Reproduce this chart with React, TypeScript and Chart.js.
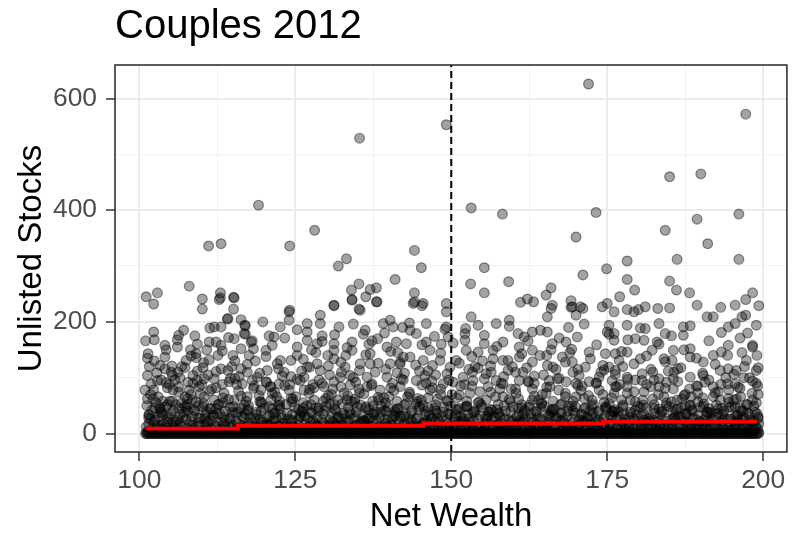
import { useEffect, useRef } from 'react';
import { Chart, registerables } from 'chart.js';

Chart.register(...registerables);

const FONT = "'Liberation Sans', Arial, Helvetica, sans-serif";

const chartTitle = 'Couples 2012';
const xTitle = 'Net Wealth';
const yTitle = 'Unlisted Stocks';

const xTicks = [100, 112.5, 125, 137.5, 150, 162.5, 175, 187.5, 200];
const yTicks = [0, 100, 200, 300, 400, 500, 600];
const xRange = [96.1, 203.8];
const yRange = [-33, 660];

const cutoffWealth = 150;

// red fitted step line
const fitWealth = [101.1, 115.8, 145.6, 174.4, 199.1];
const fitStocks = [9, 14, 18, 21.5, 21.5];

// [net wealth, unlisted stocks]
const upperPoints: number[][] = [
  [172.0, 626], [197.2, 572], [149.2, 553], [135.3, 529], [119.1, 409], [111.1, 336], [113.1, 340], [124.1, 336],
  [128.1, 364], [133.2, 313], [131.9, 300], [185.0, 460], [190.0, 465], [153.2, 404], [158.2, 393], [173.2, 396],
  [196.1, 393], [189.4, 384], [184.3, 364], [191.1, 340], [170.0, 352], [144.1, 328], [178.2, 309], [186.2, 312],
  [196.1, 312], [145.2, 297], [155.3, 297], [174.9, 295], [141.0, 276], [108.0, 264], [135.2, 268], [134.0, 257],
  [137.0, 258], [138.0, 261], [101.1, 245], [102.9, 252], [102.3, 232], [110.1, 241], [113.0, 252], [113.0, 243],
  [115.1, 244], [115.2, 243], [134.1, 240], [136.3, 245], [138.0, 236], [144.1, 252], [144.1, 236], [145.3, 229],
  [149.2, 233], [131.2, 229], [124.1, 221], [110.1, 223], [115.1, 223], [135.2, 223], [153.1, 268], [159.2, 272],
  [171.1, 284], [178.2, 276], [185.0, 273], [166.0, 261], [165.2, 248], [155.3, 252], [179.4, 257], [186.1, 257],
  [188.2, 252], [198.3, 252], [197.2, 240], [177.0, 245], [161.1, 235], [162.2, 241], [163.2, 236], [169.2, 238],
  [169.2, 226], [175.0, 233], [199.3, 229], [166.0, 224], [171.1, 224], [178.2, 222], [180.0, 222], [183.1, 224],
  [185.0, 225], [193.2, 226], [114.1, 205], [117.0, 193], [117.0, 178], [118.1, 166], [112.8, 240], [149.0, 187],
];

const midPoints: number[][] = [
  [101.0, 166], [102.4, 168], [104.1, 158], [106.1, 168], [106.1, 155], [101.4, 143], [102.4, 130], [104.1, 137],
  [105.2, 121], [104.1, 116], [106.2, 110], [103.5, 96], [101.9, 89], [100.9, 78], [105.7, 96], [105.4, 78],
  [103.0, 66], [101.3, 104], [102.8, 109], [104.8, 88], [101.6, 120],
  [107.5, 131], [109.1, 143], [109.1, 136], [108.6, 104], [110.4, 98], [109.6, 84], [108.0, 78], [107.3, 66],
  [110.4, 66], [106.8, 120], [108.2, 150], [110.2, 118], [107.8, 92], [109.3, 112], [106.5, 100], [108.9, 175],
  [110.8, 150], [107.1, 185],
  [111.2, 164], [112.3, 164], [113.1, 158], [111.2, 132], [113.1, 116], [114.2, 113], [112.0, 98], [114.4, 93],
  [112.0, 60], [113.6, 72], [115.2, 60], [115.0, 140], [115.2, 170], [112.0, 191], [113.1, 191], [114.2, 206],
  [111.6, 80], [114.8, 120], [112.6, 140], [115.6, 88],
  [116.9, 194], [116.8, 179], [117.9, 164], [116.3, 152], [116.3, 116], [117.3, 110], [118.9, 101], [120.3, 149],
  [120.5, 113], [118.1, 95], [116.5, 89], [119.5, 78], [117.3, 66], [119.5, 57], [121.1, 60], [118.6, 130],
  [120.8, 175], [119.8, 200], [117.6, 140], [121.0, 84],
  [122.1, 125], [122.6, 131], [121.6, 173], [122.6, 191], [122.4, 89], [121.1, 84], [124.0, 218], [124.0, 203],
  [125.3, 155], [125.3, 140], [124.3, 131], [124.0, 78], [123.2, 110], [125.8, 95], [122.0, 66], [124.6, 62],
  [129.0, 212], [129.0, 197], [126.9, 197], [126.9, 182], [126.9, 167], [128.5, 161], [128.5, 125], [129.0, 113],
  [126.9, 119], [126.4, 101], [129.6, 84], [126.4, 78], [128.0, 60], [130.2, 140], [127.6, 150], [130.5, 105],
  [127.8, 88], [130.8, 70], [129.3, 175],
  [131.2, 230], [134.1, 239], [135.4, 221], [132.0, 191], [131.2, 161], [131.2, 149], [131.2, 134], [134.1, 164],
  [134.1, 149], [135.4, 125], [133.0, 119], [133.8, 104], [133.8, 87], [131.2, 93], [132.8, 72], [132.4, 110],
  [135.2, 80], [134.6, 62], [131.8, 60], [135.9, 178], [133.1, 140],
  [138.1, 236], [136.2, 185], [139.1, 197], [140.2, 203], [140.7, 191], [139.7, 155], [137.0, 143], [137.0, 125],
  [136.5, 101], [136.5, 84], [139.7, 101], [138.6, 78], [140.2, 125], [137.8, 110], [139.2, 64], [136.8, 160],
  [140.6, 90], [138.2, 170], [137.4, 58],
  [143.9, 233], [145.5, 233], [143.4, 185], [144.4, 179], [146.0, 197], [146.0, 164], [141.2, 164], [142.8, 161],
  [141.8, 125], [141.8, 128], [143.4, 137], [145.5, 131], [141.8, 84], [144.4, 95], [146.6, 78], [142.5, 108],
  [144.9, 112], [143.0, 66], [145.2, 60], [141.4, 145], [142.2, 190],
  [149.2, 218], [149.2, 191], [149.5, 173], [146.6, 149], [148.2, 131], [149.8, 119], [148.7, 89], [147.5, 105],
  [150.8, 131], [147.0, 122], [150.1, 70], [147.8, 62], [146.9, 94], [148.4, 160],
  [153.2, 209], [154.3, 194], [152.2, 179], [152.2, 167], [155.3, 161], [152.4, 149], [154.3, 146], [151.9, 101],
  [153.5, 95], [155.6, 107], [153.0, 72], [155.6, 60], [153.8, 120], [151.5, 85], [155.0, 130], [152.8, 115],
  [157.2, 197], [159.3, 203], [158.3, 164], [160.7, 179], [156.7, 149], [156.7, 134], [159.1, 131], [160.9, 155],
  [160.9, 137], [157.2, 95], [159.1, 113], [160.9, 95], [158.3, 66], [160.4, 72], [157.8, 80], [159.8, 120],
  [156.4, 110],
  [161.7, 173], [163.0, 182], [165.4, 209], [165.4, 182], [166.2, 161], [163.0, 149], [163.0, 128], [165.4, 122],
  [163.0, 80], [165.7, 95], [163.0, 60], [165.2, 72], [161.5, 110], [164.2, 140], [162.4, 92], [164.8, 105],
  [166.0, 150],
  [169.4, 227], [170.7, 227], [166.2, 230], [170.0, 212], [168.4, 164], [170.2, 173], [167.8, 137], [169.4, 128],
  [168.4, 93], [170.5, 104], [167.8, 54], [170.0, 66], [166.8, 115], [169.0, 145], [171.0, 85], [167.2, 78],
  [168.8, 190],
  [175.0, 182], [172.1, 146], [174.7, 143], [176.3, 143], [171.5, 119], [175.3, 119], [176.3, 113], [172.1, 93],
  [173.7, 101], [175.8, 95], [172.6, 60], [174.7, 48], [174.2, 227], [176.1, 218], [175.3, 194], [176.1, 179],
  [176.1, 167], [173.7, 78], [174.0, 110], [176.1, 72], [176.9, 131],
  [179.3, 218], [178.2, 194], [181.1, 227], [181.1, 188], [179.5, 170], [180.9, 167], [178.2, 146], [180.3, 134],
  [178.2, 101], [178.2, 84], [180.6, 107], [180.6, 95], [180.9, 75], [178.7, 60], [177.5, 120],
  [183.3, 197], [184.3, 179], [183.0, 164], [182.2, 149], [185.6, 149], [184.1, 134], [185.4, 131], [183.3, 98],
  [183.3, 84], [185.6, 98], [185.6, 80], [184.1, 66], [186.2, 60], [182.0, 115], [184.8, 112],
  [189.4, 230], [191.0, 209], [187.2, 191], [187.2, 176], [188.3, 152], [188.3, 137], [190.4, 128], [188.3, 101],
  [190.4, 104], [188.3, 51], [190.4, 48], [190.9, 33], [186.8, 118], [189.5, 85], [187.5, 70],
  [192.0, 209], [195.5, 230], [194.4, 191], [195.5, 197], [192.0, 140], [193.3, 146], [194.4, 158], [193.1, 113],
  [194.4, 116], [195.7, 113], [192.0, 84], [192.8, 75], [195.5, 89], [193.1, 60], [194.4, 63], [195.5, 48],
  [196.6, 145], [197.5, 180], [198.3, 158], [198.9, 194], [198.9, 113], [198.9, 90], [196.0, 83], [198.3, 60],
  [197.0, 120], [197.8, 100], [196.4, 66], [199.0, 140], [197.2, 212], [196.6, 209],
];

const extraMidPoints: number[][] = [
  [101.8, 70], [102.9, 95], [103.8, 58], [105.1, 110], [106.3, 74], [107.7, 62], [108.6, 90], [109.8, 71],
  [111.0, 105], [112.3, 82], [113.4, 64], [114.6, 99], [115.9, 76], [117.1, 58], [118.4, 85], [119.2, 68],
  [120.4, 92], [121.7, 74], [122.9, 103], [124.1, 88], [125.1, 66], [126.0, 112], [127.2, 72], [128.8, 96],
  [129.9, 63], [131.0, 80], [132.2, 101], [133.4, 68], [134.7, 92], [136.0, 71], [137.2, 86], [138.4, 60],
  [139.5, 115], [140.8, 77], [142.0, 98], [143.3, 74], [144.6, 63], [145.8, 104], [147.0, 82], [148.3, 70],
  [149.6, 96], [150.9, 64], [152.1, 88], [153.4, 110], [154.6, 75], [155.9, 84], [157.1, 66], [158.4, 102],
  [159.6, 80], [160.8, 62], [162.1, 118], [163.3, 90], [164.6, 70], [165.8, 84], [167.0, 98], [168.3, 66],
  [169.5, 110], [170.8, 77], [172.0, 68], [173.2, 90], [174.5, 114], [175.7, 64], [177.0, 88], [178.2, 72],
  [179.5, 96], [180.7, 60], [182.0, 84], [183.2, 70], [184.5, 92], [185.7, 110], [187.0, 62], [188.2, 80],
  [189.5, 72], [190.7, 92], [192.0, 66], [193.2, 88], [194.5, 78], [195.7, 62], [196.9, 100], [198.2, 72],
  [199.1, 85], [104.5, 82], [110.0, 88], [116.0, 102], [122.5, 58], [128.0, 82], [134.0, 58], [140.0, 66],
  [146.0, 90], [152.5, 58], [158.0, 90], [164.0, 60], [170.0, 90], [176.5, 84], [182.5, 96], [188.5, 66],
  [194.0, 100],
];

const spreadPoints: number[][] = [
  [101.3, 62], [101.3, 135], [102.3, 78], [102.3, 182], [103.3, 47], [103.3, 122], [104.3, 91], [104.3, 150],
  [105.3, 58], [105.3, 104], [106.3, 83], [106.3, 176], [107.3, 49], [107.3, 118], [108.3, 70], [108.3, 139],
  [109.3, 95], [109.3, 160], [110.3, 54], [110.3, 127], [111.3, 76], [111.3, 189], [112.3, 44], [112.3, 111],
  [113.3, 88], [113.3, 148], [114.3, 61], [114.3, 172], [115.3, 99], [115.3, 130], [116.3, 67], [116.3, 204],
  [117.3, 41], [117.3, 124], [118.3, 81], [118.3, 152], [119.3, 57], [119.3, 108], [120.3, 93], [120.3, 138],
  [121.3, 72], [121.3, 158], [122.3, 50], [122.3, 116], [123.3, 86], [123.3, 171], [124.3, 63], [124.3, 102],
  [125.3, 97], [125.3, 186], [126.3, 55], [126.3, 133], [127.3, 79], [127.3, 119], [128.3, 46], [128.3, 145],
  [129.3, 90], [129.3, 165], [130.3, 68], [130.3, 121], [131.3, 52], [131.3, 177], [132.3, 84], [132.3, 128],
  [133.3, 60], [133.3, 154], [134.3, 100], [134.3, 196], [135.3, 73], [135.3, 113], [136.3, 48], [136.3, 141],
  [137.3, 89], [137.3, 166], [138.3, 65], [138.3, 126], [139.3, 42], [139.3, 180], [140.3, 82], [140.3, 147],
  [141.3, 58], [141.3, 109], [142.3, 96], [142.3, 137], [143.3, 71], [143.3, 198], [144.3, 53], [144.3, 123],
  [145.3, 87], [145.3, 159], [146.3, 64], [146.3, 112], [147.3, 45], [147.3, 174], [148.3, 80], [148.3, 144],
  [149.3, 59], [149.3, 107], [150.3, 92], [150.3, 162], [151.3, 69], [151.3, 126], [152.3, 48], [152.3, 188],
  [153.3, 85], [153.3, 138], [154.3, 56], [154.3, 117], [155.3, 98], [155.3, 176], [156.3, 74], [156.3, 121],
  [157.3, 43], [157.3, 156], [158.3, 89], [158.3, 131], [159.3, 61], [159.3, 192], [160.3, 80], [160.3, 110],
  [161.3, 52], [161.3, 143], [162.3, 94], [162.3, 166], [163.3, 67], [163.3, 103], [164.3, 46], [164.3, 185],
  [165.3, 83], [165.3, 140], [166.3, 58], [166.3, 119], [167.3, 99], [167.3, 171], [168.3, 72], [168.3, 128],
  [169.3, 49], [169.3, 151], [170.3, 86], [170.3, 115], [171.3, 63], [171.3, 196], [172.3, 41], [172.3, 134],
  [173.3, 91], [173.3, 159], [174.3, 70], [174.3, 122], [175.3, 54], [175.3, 178], [176.3, 84], [176.3, 106],
  [177.3, 60], [177.3, 147], [178.3, 97], [178.3, 168], [179.3, 75], [179.3, 125], [180.3, 47], [180.3, 189],
  [181.3, 88], [181.3, 139], [182.3, 62], [182.3, 110], [183.3, 44], [183.3, 160], [184.3, 81], [184.3, 129],
  [185.3, 57], [185.3, 175], [186.3, 93], [186.3, 116], [187.3, 68], [187.3, 150], [188.3, 50], [188.3, 193],
  [189.3, 85], [189.3, 135], [190.3, 64], [190.3, 108], [191.3, 96], [191.3, 166], [192.3, 73], [192.3, 124],
  [193.3, 45], [193.3, 181], [194.3, 89], [194.3, 140], [195.3, 60], [195.3, 106], [196.3, 81], [196.3, 171],
  [197.3, 52], [197.3, 131], [198.3, 94], [198.3, 155], [199.2, 70], [199.2, 118],
  [101.8, 26], [103.8, 35], [105.8, 22], [107.8, 40], [109.8, 27], [111.8, 33], [113.8, 24], [115.8, 38],
  [117.8, 29], [119.8, 21], [121.8, 37], [123.8, 26], [125.8, 33], [127.8, 23], [129.8, 41], [131.8, 28],
  [133.8, 35], [135.8, 22], [137.8, 39], [139.8, 25], [141.8, 32], [143.8, 21], [145.8, 40], [147.8, 27],
  [149.8, 34], [151.8, 23], [153.8, 38], [155.8, 26], [157.8, 31], [159.8, 22], [161.8, 41], [163.8, 28],
  [165.8, 35], [167.8, 24], [169.8, 37], [171.8, 29], [173.8, 21], [175.8, 39], [177.8, 26], [179.8, 33],
  [181.8, 23], [183.8, 40], [185.8, 28], [187.8, 34], [189.8, 22], [191.8, 37], [193.8, 27], [195.8, 32],
  [197.8, 24], [199.0, 36],
];

const lowPoints: number[][] = [
  [101.2, 50], [102.0, 42], [102.7, 55], [103.4, 38], [104.2, 48], [105.0, 35], [105.8, 52], [101.5, 28],
  [102.4, 22], [103.1, 30], [103.9, 18], [104.6, 26], [105.4, 20], [101.1, 12], [101.9, 8], [102.9, 14],
  [103.7, 9], [104.4, 12], [105.2, 7], [106.0, 15], [101.6, 34], [103.3, 44], [104.9, 58], [102.2, 62],
  [106.4, 45], [107.0, 30], [107.7, 52], [108.3, 22], [108.9, 40], [109.5, 28], [110.2, 48], [110.8, 18],
  [106.8, 12], [107.5, 8], [108.1, 16], [108.8, 10], [109.7, 14], [110.4, 6], [107.2, 38], [109.1, 56],
  [110.6, 35], [108.5, 60], [106.2, 24],
  [111.3, 45], [111.9, 30], [112.6, 52], [113.2, 20], [113.8, 40], [114.5, 28], [115.1, 48], [115.8, 18],
  [111.5, 10], [112.2, 14], [113.0, 8], [113.7, 12], [114.3, 6], [115.0, 15], [115.6, 9], [112.9, 36],
  [114.9, 38], [111.1, 22], [113.5, 55],
  [116.2, 45], [116.8, 28], [117.5, 50], [118.1, 20], [118.7, 38], [119.3, 26], [120.0, 46], [120.6, 16],
  [116.5, 10], [117.2, 13], [117.9, 7], [118.5, 11], [119.1, 9], [119.8, 14], [120.4, 8], [121.0, 12],
  [117.0, 35], [119.6, 54], [120.9, 32],
  [121.3, 44], [121.9, 27], [122.5, 51], [123.1, 19], [123.7, 37], [124.3, 25], [124.9, 47], [125.5, 15],
  [121.6, 11], [122.2, 14], [122.9, 7], [123.5, 12], [124.1, 9], [124.7, 13], [125.3, 8], [125.9, 30],
  [122.7, 33], [124.5, 57], [126.0, 40], [121.1, 20],
  [126.3, 46], [126.9, 29], [127.5, 52], [128.1, 18], [128.7, 41], [129.3, 24], [129.9, 49], [130.5, 16],
  [126.6, 10], [127.2, 13], [127.9, 8], [128.5, 12], [129.1, 6], [129.7, 14], [130.3, 9], [130.9, 35],
  [127.7, 36], [129.5, 58], [131.0, 22], [126.1, 38],
  [131.3, 44], [131.9, 30], [132.5, 53], [133.1, 21], [133.7, 39], [134.3, 27], [134.9, 48], [135.5, 17],
  [131.6, 12], [132.2, 9], [132.9, 14], [133.5, 7], [134.1, 11], [134.7, 15], [135.3, 8], [135.9, 33],
  [132.7, 36], [134.5, 56], [136.0, 24], [131.1, 19],
  [136.3, 45], [136.9, 28], [137.5, 50], [138.1, 20], [138.7, 38], [139.3, 26], [139.9, 47], [140.5, 16],
  [136.6, 11], [137.2, 14], [137.9, 7], [138.5, 12], [139.1, 9], [139.7, 13], [140.3, 6], [140.9, 31],
  [137.7, 34], [139.5, 55], [141.0, 41], [136.1, 22],
  [141.3, 44], [141.9, 29], [142.5, 52], [143.1, 19], [143.7, 40], [144.3, 26], [144.9, 48], [145.5, 17],
  [141.6, 10], [142.2, 14], [142.9, 8], [143.5, 12], [144.1, 6], [144.7, 13], [145.3, 9], [145.9, 34],
  [142.7, 35], [144.5, 57], [146.0, 23], [141.1, 38],
  [146.3, 46], [146.9, 28], [147.5, 51], [148.1, 21], [148.7, 39], [149.3, 25], [149.9, 49], [150.5, 15],
  [146.6, 11], [147.2, 13], [147.9, 7], [148.5, 12], [149.1, 9], [149.7, 14], [150.3, 8], [150.9, 33],
  [147.7, 36], [149.5, 58], [151.0, 42], [146.1, 20],
  [151.3, 45], [151.9, 27], [152.5, 50], [153.1, 20], [153.7, 41], [154.3, 26], [154.9, 47], [155.5, 16],
  [151.6, 12], [152.2, 9], [152.9, 14], [153.5, 8], [154.1, 11], [154.7, 13], [155.3, 7], [155.9, 32],
  [152.7, 35], [154.5, 56], [156.0, 39], [151.1, 22],
  [156.3, 43], [156.9, 30], [157.5, 52], [158.1, 18], [158.7, 40], [159.3, 25], [159.9, 48], [160.5, 17],
  [156.6, 10], [157.2, 14], [157.9, 8], [158.5, 12], [159.1, 6], [159.7, 13], [160.3, 9], [160.9, 34],
  [157.7, 36], [159.5, 57], [161.0, 24], [156.1, 38],
  [161.3, 46], [161.9, 28], [162.5, 51], [163.1, 21], [163.7, 38], [164.3, 27], [164.9, 49], [165.5, 15],
  [161.6, 11], [162.2, 13], [162.9, 7], [163.5, 12], [164.1, 9], [164.7, 14], [165.3, 8], [165.9, 31],
  [162.7, 35], [164.5, 55], [166.0, 42], [161.1, 20],
  [166.3, 44], [166.9, 29], [167.5, 52], [168.1, 19], [168.7, 40], [169.3, 26], [169.9, 48], [170.5, 16],
  [166.6, 10], [167.2, 14], [167.9, 8], [168.5, 12], [169.1, 6], [169.7, 13], [170.3, 9], [170.9, 33],
  [167.7, 36], [169.5, 58], [171.0, 23], [166.1, 39],
  [171.3, 45], [171.9, 27], [172.5, 50], [173.1, 20], [173.7, 41], [174.3, 25], [174.9, 47], [175.5, 17],
  [171.6, 12], [172.2, 9], [172.9, 14], [173.5, 8], [174.1, 11], [174.7, 13], [175.3, 7], [175.9, 32],
  [172.7, 36], [174.5, 56], [176.0, 40], [171.1, 22],
  [176.3, 43], [176.9, 30], [177.5, 51], [178.1, 18], [178.7, 39], [179.3, 26], [179.9, 49], [180.5, 16],
  [176.6, 11], [177.2, 13], [177.9, 8], [178.5, 12], [179.1, 9], [179.7, 14], [180.3, 7], [180.9, 34],
  [177.7, 35], [179.5, 57], [181.0, 24], [176.1, 38],
  [181.3, 46], [181.9, 28], [182.5, 52], [183.1, 21], [183.7, 38], [184.3, 27], [184.9, 48], [185.5, 15],
  [181.6, 10], [182.2, 14], [182.9, 7], [183.5, 12], [184.1, 9], [184.7, 13], [185.3, 8], [185.9, 31],
  [182.7, 36], [184.5, 55], [186.0, 42], [181.1, 20],
  [186.3, 44], [186.9, 29], [187.5, 50], [188.1, 19], [188.7, 41], [189.3, 25], [189.9, 47], [190.5, 17],
  [186.6, 12], [187.2, 9], [187.9, 14], [188.5, 8], [189.1, 11], [189.7, 13], [190.3, 6], [190.9, 22],
  [187.7, 35], [189.5, 57], [191.0, 39], [186.1, 24],
  [191.3, 45], [191.9, 27], [192.5, 51], [193.1, 20], [193.7, 40], [194.3, 26], [194.9, 48], [195.5, 16],
  [191.6, 11], [192.2, 13], [192.9, 8], [193.5, 12], [194.1, 6], [194.7, 14], [195.3, 9], [195.9, 33],
  [192.7, 36], [194.5, 56], [196.0, 24], [191.1, 38],
  [196.3, 46], [196.9, 28], [197.5, 52], [198.1, 21], [198.7, 38], [199.2, 27], [196.6, 10], [197.2, 14],
  [197.9, 7], [198.5, 12], [199.1, 9], [197.7, 35], [198.9, 55], [196.1, 20], [199.3, 18], [196.8, 40],
];

const extraLowPoints: number[][] = [
  [101.5, 17], [101.5, 33], [102.5, 24], [102.5, 46], [102.8, 10], [103.5, 15], [103.5, 38], [104.5, 21],
  [104.5, 52], [104.8, 30], [105.5, 11], [105.5, 41], [106.5, 19], [106.5, 34], [106.8, 55], [107.5, 26],
  [107.5, 47], [108.5, 13], [108.5, 31], [108.8, 42], [109.5, 20], [109.5, 50], [110.5, 16], [110.5, 27],
  [110.8, 39], [111.5, 23], [111.5, 44], [112.5, 12], [112.5, 35], [112.8, 53], [113.5, 18], [113.5, 29],
  [114.5, 25], [114.5, 47], [114.8, 11], [115.5, 22], [115.5, 37], [116.5, 14], [116.5, 31], [116.8, 51],
  [117.5, 19], [117.5, 43], [118.5, 27], [118.5, 12], [118.8, 34], [119.5, 21], [119.5, 40], [120.5, 15],
  [120.5, 29], [120.8, 48], [121.5, 24], [121.5, 36], [122.5, 13], [122.5, 45], [122.8, 28], [123.5, 18],
  [123.5, 52], [124.5, 22], [124.5, 34], [124.8, 11], [125.5, 26], [125.5, 43], [126.5, 16], [126.5, 32],
  [126.8, 50], [127.5, 21], [127.5, 39], [128.5, 14], [128.5, 28], [128.8, 46], [129.5, 19], [129.5, 35],
  [130.5, 24], [130.5, 53], [130.8, 12], [131.5, 17], [131.5, 41], [132.5, 27], [132.5, 15], [132.8, 33],
  [133.5, 22], [133.5, 47], [134.5, 13], [134.5, 30], [134.8, 38], [135.5, 20], [135.5, 51], [136.5, 16],
  [136.5, 26], [136.8, 42], [137.5, 23], [137.5, 36], [138.5, 11], [138.5, 29], [138.8, 49], [139.5, 18],
  [139.5, 40], [140.5, 25], [140.5, 14], [140.8, 33], [141.5, 21], [141.5, 45], [142.5, 17], [142.5, 31],
  [142.8, 54], [143.5, 24], [143.5, 37], [144.5, 12], [144.5, 28], [144.8, 43], [145.5, 19], [145.5, 50],
  [146.5, 15], [146.5, 34], [146.8, 26], [147.5, 22], [147.5, 41], [148.5, 13], [148.5, 30], [148.8, 47],
  [149.5, 18], [149.5, 36], [150.5, 25], [150.5, 12], [150.8, 44], [151.5, 20], [151.5, 31], [152.5, 16],
  [152.5, 48], [152.8, 27], [153.5, 23], [153.5, 38], [154.5, 11], [154.5, 33], [154.8, 52], [155.5, 19],
  [155.5, 29], [156.5, 24], [156.5, 42], [156.8, 14], [157.5, 17], [157.5, 35], [158.5, 26], [158.5, 50],
  [158.8, 12], [159.5, 21], [159.5, 39], [160.5, 15], [160.5, 30], [160.8, 45], [161.5, 22], [161.5, 34],
  [162.5, 13], [162.5, 47], [162.8, 27], [163.5, 18], [163.5, 40], [164.5, 24], [164.5, 53], [164.8, 11],
  [165.5, 20], [165.5, 32], [166.5, 16], [166.5, 43], [166.8, 28], [167.5, 23], [167.5, 37], [168.5, 12],
  [168.5, 30], [168.8, 49], [169.5, 19], [169.5, 41], [170.5, 25], [170.5, 14], [170.8, 35], [171.5, 21],
  [171.5, 46], [172.5, 17], [172.5, 31], [172.8, 52], [173.5, 24], [173.5, 38], [174.5, 13], [174.5, 28],
  [174.8, 44], [175.5, 18], [175.5, 33], [176.5, 26], [176.5, 11], [176.8, 40], [177.5, 20], [177.5, 48],
  [178.5, 15], [178.5, 29], [178.8, 36], [179.5, 23], [179.5, 42], [180.5, 12], [180.5, 31], [180.8, 51],
  [181.5, 19], [181.5, 27], [182.5, 24], [182.5, 45], [182.8, 14], [183.5, 17], [183.5, 34], [184.5, 22],
  [184.5, 50], [184.8, 11], [185.5, 26], [185.5, 39], [186.5, 16], [186.5, 30], [186.8, 46], [187.5, 21],
  [187.5, 36], [188.5, 13], [188.5, 42], [188.8, 27], [189.5, 18], [189.5, 33], [190.5, 24], [190.5, 53],
  [190.8, 12], [191.5, 20], [191.5, 38], [192.5, 15], [192.5, 29], [192.8, 44], [193.5, 23], [193.5, 35],
  [194.5, 11], [194.5, 47], [194.8, 26], [195.5, 19], [195.5, 31], [196.5, 25], [196.5, 41], [196.8, 14],
  [197.5, 17], [197.5, 37], [198.5, 22], [198.5, 49], [198.8, 12], [199.2, 30],
];

const nearZeroPoints: number[][] = [
  [101.2, 3], [102.1, 5], [103.0, 2], [103.9, 4], [104.8, 6], [105.7, 2], [106.6, 4], [107.5, 3], [108.4, 5],
  [109.3, 2], [110.2, 4], [111.1, 6], [112.0, 3], [112.9, 2], [113.8, 5], [114.7, 3], [115.6, 4], [116.5, 2],
  [117.4, 6], [118.3, 3], [119.2, 5], [120.1, 2], [121.0, 4], [121.9, 3], [122.8, 6], [123.7, 2], [124.6, 4],
  [125.5, 3], [126.4, 5], [127.3, 2], [128.2, 4], [129.1, 6], [130.0, 3], [130.9, 2], [131.8, 5], [132.7, 3],
  [133.6, 4], [134.5, 2], [135.4, 6], [136.3, 3], [137.2, 5], [138.1, 2], [139.0, 4], [139.9, 3], [140.8, 6],
  [141.7, 2], [142.6, 4], [143.5, 3], [144.4, 5], [145.3, 2], [146.2, 4], [147.1, 6], [148.0, 3], [148.9, 2],
  [149.8, 5], [150.7, 3], [151.6, 4], [152.5, 2], [153.4, 6], [154.3, 3], [155.2, 5], [156.1, 2], [157.0, 4],
  [157.9, 3], [158.8, 6], [159.7, 2], [160.6, 4], [161.5, 3], [162.4, 5], [163.3, 2], [164.2, 4], [165.1, 6],
  [166.0, 3], [166.9, 2], [167.8, 5], [168.7, 3], [169.6, 4], [170.5, 2], [171.4, 6], [172.3, 3], [173.2, 5],
  [174.1, 2], [175.0, 4], [175.9, 3], [176.8, 6], [177.7, 2], [178.6, 4], [179.5, 3], [180.4, 5], [181.3, 2],
  [182.2, 4], [183.1, 6], [184.0, 3], [184.9, 2], [185.8, 5], [186.7, 3], [187.6, 4], [188.5, 2], [189.4, 6],
  [190.3, 3], [191.2, 5], [192.1, 2], [193.0, 4], [193.9, 3], [194.8, 6], [195.7, 2], [196.6, 4], [197.5, 3],
  [198.4, 5], [199.3, 2],
];

// households holding no unlisted stocks (value 0)
const zeroWealth = [
  101.0, 101.4, 101.9, 102.3, 102.8, 103.3, 103.7, 104.2, 104.6, 105.1, 105.5, 106.0, 106.5, 106.9, 107.4, 107.8,
  108.3, 108.7, 109.2, 109.7, 110.1, 110.6, 111.0, 111.5, 111.9, 112.4, 112.9, 113.3, 113.8, 114.2, 114.7, 115.1,
  115.6, 116.1, 116.5, 117.0, 117.4, 117.9, 118.3, 118.8, 119.3, 119.7, 120.2, 120.6, 121.1, 121.5, 122.0, 122.5,
  122.9, 123.4, 123.8, 124.3, 124.7, 125.2, 125.7, 126.1, 126.6, 127.0, 127.5, 127.9, 128.4, 128.9, 129.3, 129.8,
  130.2, 130.7, 131.1, 131.6, 132.1, 132.5, 133.0, 133.4, 133.9, 134.3, 134.8, 135.3, 135.7, 136.2, 136.6, 137.1,
  137.5, 138.0, 138.5, 138.9, 139.4, 139.8, 140.3, 140.7, 141.2, 141.7, 142.1, 142.6, 143.0, 143.5, 143.9, 144.4,
  144.9, 145.3, 145.8, 146.2, 146.7, 147.1, 147.6, 148.1, 148.5, 149.0, 149.4, 149.9, 150.3, 150.8, 151.3, 151.7,
  152.2, 152.6, 153.1, 153.5, 154.0, 154.5, 154.9, 155.4, 155.8, 156.3, 156.7, 157.2, 157.7, 158.1, 158.6, 159.0,
  159.5, 159.9, 160.4, 160.9, 161.3, 161.8, 162.2, 162.7, 163.1, 163.6, 164.1, 164.5, 165.0, 165.4, 165.9, 166.3,
  166.8, 167.3, 167.7, 168.2, 168.6, 169.1, 169.5, 170.0, 170.5, 170.9, 171.4, 171.8, 172.3, 172.7, 173.2, 173.7,
  174.1, 174.6, 175.0, 175.5, 175.9, 176.4, 176.9, 177.3, 177.8, 178.2, 178.7, 179.1, 179.6, 180.1, 180.5, 181.0,
  181.4, 181.9, 182.3, 182.8, 183.3, 183.7, 184.2, 184.6, 185.1, 185.5, 186.0, 186.5, 186.9, 187.4, 187.8, 188.3,
  188.7, 189.2, 189.7, 190.1, 190.6, 191.0, 191.5, 191.9, 192.4, 192.9, 193.3, 193.8, 194.2, 194.7, 195.1, 195.6,
  196.1, 196.5, 197.0, 197.4, 197.9, 198.3, 198.8, 199.2,
];

const zeroWealthB = [
  101.2, 101.6, 102.1, 102.5, 103.0, 103.5, 103.9, 104.4, 104.8, 105.3, 105.7, 106.2, 106.7, 107.1, 107.6, 108.0,
  108.5, 108.9, 109.4, 109.9, 110.3, 110.8, 111.2, 111.7, 112.1, 112.6, 113.1, 113.5, 114.0, 114.4, 114.9, 115.3,
  115.8, 116.3, 116.7, 117.2, 117.6, 118.1, 118.5, 119.0, 119.5, 119.9, 120.4, 120.8, 121.3, 121.7, 122.2, 122.7,
  123.1, 123.6, 124.0, 124.5, 124.9, 125.4, 125.9, 126.3, 126.8, 127.2, 127.7, 128.1, 128.6, 129.1, 129.5, 130.0,
  130.4, 130.9, 131.3, 131.8, 132.3, 132.7, 133.2, 133.6, 134.1, 134.5, 135.0, 135.5, 135.9, 136.4, 136.8, 137.3,
  137.7, 138.2, 138.7, 139.1, 139.6, 140.0, 140.5, 140.9, 141.4, 141.9, 142.3, 142.8, 143.2, 143.7, 144.1, 144.6,
  145.1, 145.5, 146.0, 146.4, 146.9, 147.3, 147.8, 148.3, 148.7, 149.2, 149.6, 150.1, 150.5, 151.0, 151.5, 151.9,
  152.4, 152.8, 153.3, 153.7, 154.2, 154.7, 155.1, 155.6, 156.0, 156.5, 156.9, 157.4, 157.9, 158.3, 158.8, 159.2,
  159.7, 160.1, 160.6, 161.1, 161.5, 162.0, 162.4, 162.9, 163.3, 163.8, 164.3, 164.7, 165.2, 165.6, 166.1, 166.5,
  167.0, 167.5, 167.9, 168.4, 168.8, 169.3, 169.7, 170.2, 170.7, 171.1, 171.6, 172.0, 172.5, 172.9, 173.4, 173.9,
  174.3, 174.8, 175.2, 175.7, 176.1, 176.6, 177.1, 177.5, 178.0, 178.4, 178.9, 179.3, 179.8, 180.3, 180.7, 181.2,
  181.6, 182.1, 182.5, 183.0, 183.5, 183.9, 184.4, 184.8, 185.3, 185.7, 186.2, 186.7, 187.1, 187.6, 188.0, 188.5,
  188.9, 189.4, 189.9, 190.3, 190.8, 191.2, 191.7, 192.1, 192.6, 193.1, 193.5, 194.0, 194.4, 194.9, 195.3, 195.8,
  196.3, 196.7, 197.2, 197.6, 198.1, 198.5, 199.0,
];

const panelBorder = {
  id: 'panelBorder',
  afterDatasetsDraw(chart: any) {
    const { ctx, chartArea } = chart;
    ctx.save();
    ctx.strokeStyle = '#333333';
    ctx.lineWidth = 1.6;
    ctx.strokeRect(chartArea.left, chartArea.top, chartArea.right - chartArea.left, chartArea.bottom - chartArea.top);
    ctx.restore();
  },
};

export default function App() {
  const canvasRef = useRef<HTMLCanvasElement | null>(null);

  useEffect(() => {
    document.body.style.margin = '0';
    const canvas = canvasRef.current;
    if (!canvas) return;

    const toXY = (p: number[]) => ({ x: p[0], y: p[1] });
    const scatterData = [
      ...zeroWealth.map((w) => ({ x: w, y: 0 })),
      ...zeroWealthB.map((w) => ({ x: w, y: 0 })),
      ...nearZeroPoints.map(toXY),
      ...lowPoints.map(toXY),
      ...extraLowPoints.map(toXY),
      ...spreadPoints.map(toXY),
      ...midPoints.map(toXY),
      ...extraMidPoints.map(toXY),
      ...upperPoints.map(toXY),
    ];
    const fitData = fitWealth.map((w, i) => ({ x: w, y: fitStocks[i] }));
    const cutoffData = [
      { x: cutoffWealth, y: yRange[0] },
      { x: cutoffWealth, y: yRange[1] },
    ];

    const isMajorX = (v: number) => v % 25 === 0;
    const isMajorY = (v: number) => v % 200 === 0;

    const chart = new Chart(canvas, {
      type: 'scatter',
      data: {
        datasets: [
          {
            label: 'fit',
            data: fitData,
            showLine: true,
            stepped: true,
            borderColor: '#ff0000',
            borderWidth: 3.8,
            pointRadius: 0,
            fill: false,
            order: 0,
          } as any,
          {
            label: 'cutoff',
            data: cutoffData,
            showLine: true,
            borderColor: '#000000',
            borderWidth: 2,
            borderDash: [7, 4],
            pointRadius: 0,
            fill: false,
            order: 1,
          } as any,
          {
            label: 'households',
            data: scatterData,
            backgroundColor: 'rgba(0,0,0,0.36)',
            borderColor: 'rgba(0,0,0,0.42)',
            borderWidth: 1.2,
            pointRadius: 4.9,
            pointHoverRadius: 4.9,
            order: 2,
          },
        ],
      },
      options: {
        responsive: false,
        animation: false,
        devicePixelRatio: 1,
        events: [],
        layout: { padding: { left: 0, right: 1.3, top: 0, bottom: 0 } },
        plugins: {
          legend: { display: false },
          tooltip: { enabled: false },
          title: {
            display: true,
            text: chartTitle,
            align: 'start',
            fullSize: false,
            color: '#000000',
            font: { family: FONT, size: 40, weight: 'normal', lineHeight: 1.2 },
            padding: { top: 3, bottom: 14 },
          },
        },
        scales: {
          x: {
            type: 'linear',
            min: xRange[0],
            max: xRange[1],
            afterBuildTicks: (s: any) => {
              s.ticks = xTicks.map((v) => ({ value: v }));
            },
            afterFit: (s: any) => {
              s.height = 81;
            },
            border: { display: false },
            grid: {
              color: (c: any) => (c.tick && isMajorX(c.tick.value) ? '#ebebeb' : '#f3f3f3'),
              lineWidth: (c: any) => (c.tick && isMajorX(c.tick.value) ? 2 : 1.2),
              tickColor: (c: any) => (c.tick && isMajorX(c.tick.value) ? '#333333' : 'rgba(0,0,0,0)'),
              tickWidth: 1.5,
              tickLength: 9,
              drawTicks: true,
            },
            ticks: {
              autoSkip: false,
              maxRotation: 0,
              padding: 4,
              color: '#4d4d4d',
              font: { family: FONT, size: 26.4 },
              callback: (v: any) => (isMajorX(Number(v)) ? String(v) : ''),
            },
            title: {
              display: true,
              text: xTitle,
              color: '#000000',
              font: { family: FONT, size: 33, lineHeight: 1 },
              padding: { top: 0, bottom: 0 },
            },
          },
          y: {
            type: 'linear',
            min: yRange[0],
            max: yRange[1],
            afterBuildTicks: (s: any) => {
              s.ticks = yTicks.map((v) => ({ value: v }));
            },
            afterFit: (s: any) => {
              s.width = 115;
            },
            border: { display: false },
            grid: {
              color: (c: any) => (c.tick && isMajorY(c.tick.value) ? '#ebebeb' : '#f3f3f3'),
              lineWidth: (c: any) => (c.tick && isMajorY(c.tick.value) ? 2 : 1.2),
              tickColor: (c: any) => (c.tick && isMajorY(c.tick.value) ? '#333333' : 'rgba(0,0,0,0)'),
              tickWidth: 1.5,
              tickLength: 9,
              drawTicks: true,
            },
            ticks: {
              autoSkip: false,
              padding: 9,
              color: '#4d4d4d',
              font: { family: FONT, size: 26.4 },
              callback: (v: any) => (isMajorY(Number(v)) ? String(v) : ''),
            },
            title: {
              display: true,
              text: yTitle,
              color: '#000000',
              font: { family: FONT, size: 33, lineHeight: 1.2 },
              padding: { top: 12, bottom: 0 },
            },
          },
        },
      },
      plugins: [panelBorder],
    } as any);

    return () => chart.destroy();
  }, []);

  return (
    <div style={{ position: 'absolute', left: 0, top: 0, width: 793, height: 533, background: '#ffffff' }}>
      <canvas ref={canvasRef} width={793} height={533} style={{ display: 'block', width: 793, height: 533 }} />
    </div>
  );
}
